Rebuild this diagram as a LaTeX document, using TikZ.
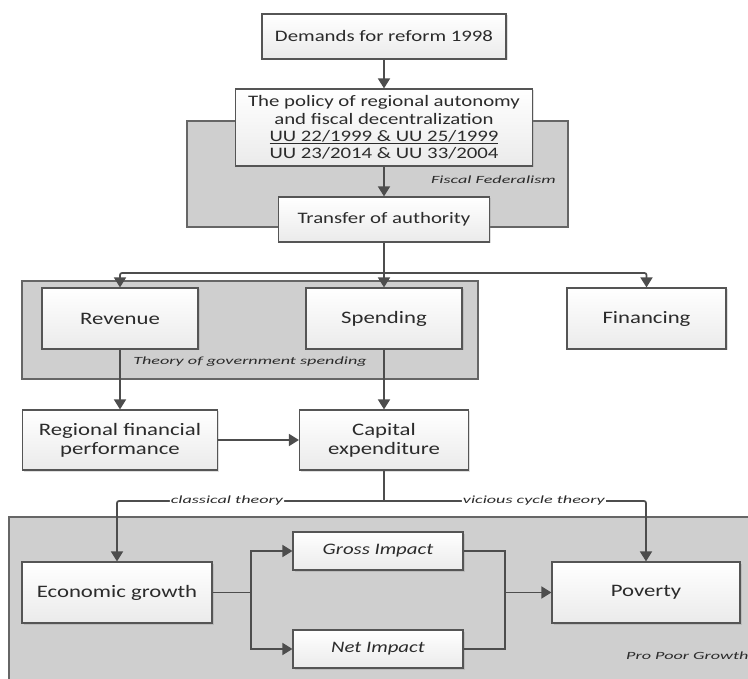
\documentclass[tikz,border=0pt]{standalone}
\usepackage{fontspec}
\setmainfont[FakeStretch=1.3]{Carlito}
\newfontfamily\lblfont[FakeStretch=1.65]{Carlito}
\usetikzlibrary{arrows.meta,shadows,calc}
\definecolor{txt}{HTML}{2B2B2B}
\definecolor{ln}{HTML}{4D4D4D}
\definecolor{bd}{HTML}{555555}
\definecolor{gb}{HTML}{666666}
\definecolor{grpfill}{HTML}{CFCFCF}
\tikzset{
  box/.style={draw=bd, line width=1.2pt, top color=white, bottom color=black!8,
    text=txt, align=center, inner sep=2pt,
    drop shadow={shadow xshift=1.5pt, shadow yshift=-1.5pt, opacity=0.25}},
  bigtxt/.style={font=\fontsize{17.5}{19}\selectfont},
  smtxt/.style={font=\fontsize{16}{17.4}\selectfont},
  grp/.style={draw=gb, line width=1.6pt, fill=grpfill},
  conn/.style={draw=ln, line width=1.7pt},
  arr/.style={conn, -{Triangle[width=12pt,length=10pt]}},
  lbl/.style={font=\lblfont\itshape\fontsize{11}{12}\selectfont, text=txt, inner sep=1pt}
}
\begin{document}
\begin{tikzpicture}[x=1pt,y=-1pt]
\useasboundingbox (0,0) rectangle (748,679);
\clip (0,0) rectangle (748,679);
\fill[white] (0,0) rectangle (748,679);
% groups
\draw[grp] (187,121) rectangle (568,227);
\draw[grp] (22,281) rectangle (478,379);
\draw[grp] (9,517) rectangle (770,700);
\node[lbl, anchor=east] (lff) at (557,180) {Fiscal Federalism};
\node[lbl] (ltg) at (250,362) {Theory of government spending};
\node[lbl, anchor=west] (lpp) at (625,656) {Pro Poor Growth};
% nodes
\node[box, smtxt, minimum width=244, minimum height=45] (dem) at (384,36.5) {Demands for reform 1998};
\node[box, smtxt, minimum width=297, minimum height=77] (pol) at (384,127.5)
  {The policy of regional autonomy\\ and fiscal decentralization\\ \underline{UU 22/1999 \& UU 25/1999}\\ UU 23/2014 \& UU 33/2004};
\node[box, smtxt, minimum width=211, minimum height=45] (tra) at (384,219.5) {Transfer of authority};
\node[box, bigtxt, minimum width=156, minimum height=61] (rev) at (120,318.5) {Revenue};
\node[box, bigtxt, minimum width=156, minimum height=61] (spe) at (384,318.5) {Spending};
\node[box, bigtxt, minimum width=159, minimum height=61] (fin) at (646.5,318.5) {Financing};
\node[box, bigtxt, minimum width=195, minimum height=60] (rfp) at (120,440) {Regional financial\\ performance};
\node[box, bigtxt, minimum width=169, minimum height=60] (cap) at (384,440) {Capital\\ expenditure};
\node[box, bigtxt, minimum width=190, minimum height=61] (eco) at (117,592.5) {Economic growth};
\node[box, smtxt, font=\itshape\fontsize{16}{17.4}\selectfont, minimum width=170, minimum height=38] (gro) at (378,551) {Gross Impact};
\node[box, smtxt, font=\itshape\fontsize{16}{17.4}\selectfont, minimum width=170, minimum height=38] (net) at (378,649) {Net Impact};
\node[box, bigtxt, minimum width=188, minimum height=61] (pov) at (646,592.5) {Poverty};
% connectors
\draw[arr] (dem) -- (pol);
\draw[arr] (pol) -- (tra);
\coordinate (hub) at (384,273);
\draw[conn] (tra.south) -- (hub);
\draw[arr] (hub) -- (spe.north);
\draw[arr, rounded corners=2pt] (hub) -| (rev.north);
\draw[arr, rounded corners=2pt] (hub) -| (fin.north);
\draw[arr] (rev.south) -- (rev.south |- rfp.north);
\draw[arr] (spe.south) -- (spe.south |- cap.north);
\draw[arr] (rfp.east) -- (cap.west);
\coordinate (br) at (384,501);
\draw[conn] (cap.south) -- (br);
\draw[arr, rounded corners=2pt] (br) -| node[pos=0.294, lbl, fill=white] {classical theory} (eco.north);
\draw[arr, rounded corners=2pt] (br) -| node[pos=0.286, lbl, fill=white] {vicious cycle theory} (pov.north);
\coordinate (split) at (251,592.5);
\coordinate (merge) at (505,592.5);
\draw[conn] (eco.east) -- (split);
\draw[arr] (split) |- (gro.west);
\draw[arr] (split) |- (net.west);
\draw[conn] (gro.east) -| (merge);
\draw[conn] (net.east) -| (merge);
\draw[arr] (merge) -- (pov.west);
\end{tikzpicture}
\end{document}
